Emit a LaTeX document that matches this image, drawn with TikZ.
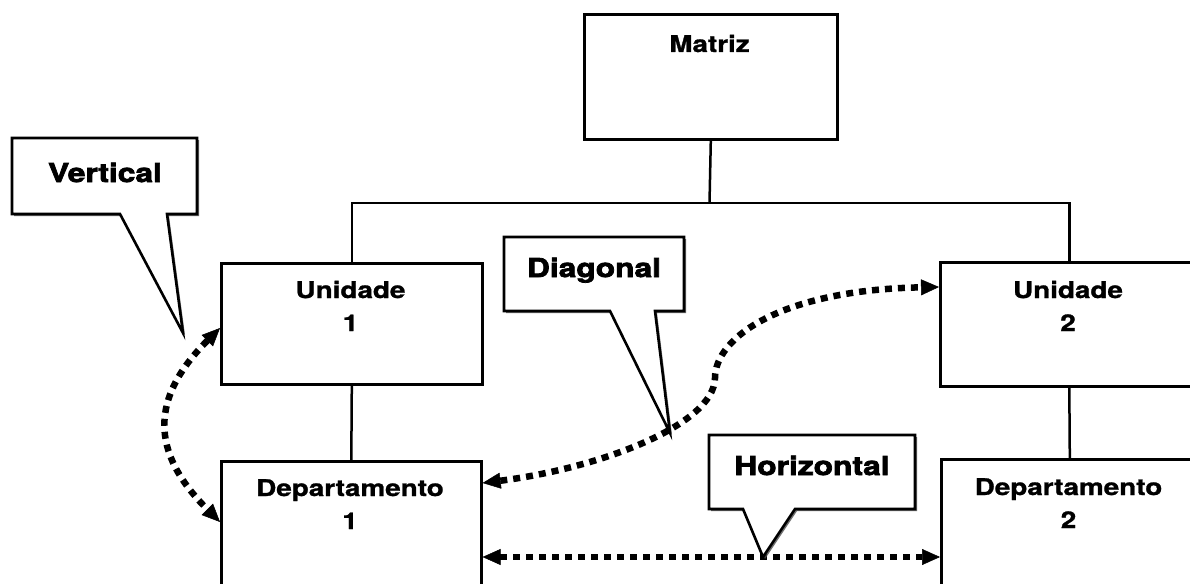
\documentclass[tikz,border=0pt]{standalone}
\usepackage{fontspec}
\setmainfont{TeX Gyre Heros}
\newfontfamily\boxfont{TeX Gyre Heros}[FakeStretch=1.21, BoldFeatures={FakeBold=1.2}]
\newfontfamily\callfont{TeX Gyre Heros}[FakeStretch=1.22, BoldFeatures={FakeBold=2.8}]
\usetikzlibrary{arrows.meta,shadows}

\tikzset{
  orgbox/.style={draw, line width=2.6pt, fill=white, rectangle, inner sep=0pt,
    anchor=north west,
    drop shadow={shadow xshift=2pt, shadow yshift=-2pt, fill=black!70, opacity=0.8}},
  boxtext/.style={inner sep=0pt, align=center, anchor=base,
    font=\boxfont\bfseries\fontsize{23}{33}\selectfont},
  calltext/.style={inner sep=0pt, anchor=base,
    font=\callfont\bfseries\fontsize{26}{30}\selectfont},
  callout/.style={draw, line width=2.6pt, fill=white, line join=miter,
    drop shadow={shadow xshift=2pt, shadow yshift=-2pt, fill=black!70, opacity=0.8}},
  link/.style={line width=2.5pt},
  dotarrow/.style={line width=6.5pt, dash pattern=on 7pt off 6pt,
    {Triangle[length=18pt,width=16pt,line width=0.5pt]}-{Triangle[length=18pt,width=16pt,line width=0.5pt]}}
}

\begin{document}
\begin{tikzpicture}[x=1pt,y=-1pt]
\useasboundingbox[fill=white] (0,0) rectangle (1190,583);

% organisation boxes
\node[orgbox, minimum width=253pt, minimum height=125pt] (mat) at (583,13) {};
\node[orgbox, minimum width=261pt, minimum height=121pt] (u1) at (220,262) {};
\node[orgbox, minimum width=258pt, minimum height=124pt] (u2) at (939,261) {};
\node[orgbox, minimum width=260pt, minimum height=150pt] (d1) at (220,460) {};
\node[orgbox, minimum width=257pt, minimum height=150pt] (d2) at (940,458) {};

% box labels (base anchor sits on the last line)
\node[boxtext] (matt) at (709.5,52) {Matriz};
\node[boxtext] (u1t) at (350.5,331) {Unidade\\1};
\node[boxtext] (u2t) at (1068,331) {Unidade\\2};
\node[boxtext] (d1t) at (350,529) {Departamento\\1};
\node[boxtext] (d2t) at (1068.5,528) {Departamento\\2};

% hierarchy lines
\coordinate (bar) at (709.5,203);
\draw[link] (mat.south) -- (bar);
\draw[link] (u1.north) |- (bar) -| (u2.north);
\draw[link] (u1.south) -- (d1.north);
\draw[link] (u2.south) -- (d2.north);

% communication flows
\draw[dotarrow] ([yshift=-66pt]u1.north west)
  .. controls (150,398) and (150,452) .. ([yshift=-62pt]d1.north west);
\draw[dotarrow] ([yshift=-23pt]d1.north east)
  .. controls (600,468) and (714,425) .. (715,378)
  .. controls (715,338) and (780,290) .. ([yshift=-26pt]u2.north west);
\draw[dotarrow] ([yshift=-97pt]d1.north east) -- ([yshift=-99pt]d2.north west);

% callouts
\draw[callout] (12,138) -- (197,138) -- (197,214) -- (167,214) -- (183,333)
  -- (120,214) -- (12,214) -- cycle;
\node[calltext] (vt) at (105,182) {Vertical};

\draw[callout] (504,237) -- (684,237) -- (684,311) -- (655,311) -- (670,433)
  -- (610,311) -- (504,311) -- cycle;
\node[calltext] (dt) at (594,277) {Diagonal};

\draw[callout] (709,435) -- (915,435) -- (915,509) -- (795,509) -- (763,557)
  -- (743,509) -- (709,509) -- cycle;
\node[calltext] (ht) at (812,475) {Horizontal};
\end{tikzpicture}
\end{document}
